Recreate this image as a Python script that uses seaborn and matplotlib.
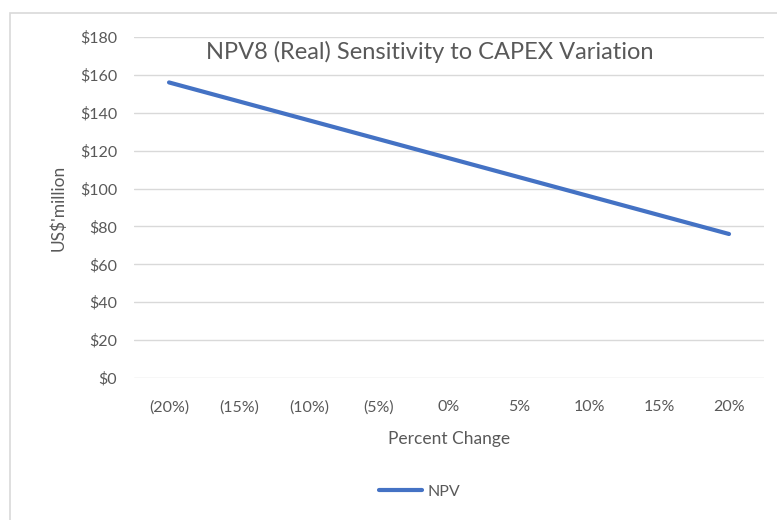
import pandas as pd
import matplotlib.pyplot as plt
import seaborn as sns
from matplotlib.patches import Rectangle
from matplotlib.ticker import FuncFormatter

sns.set_theme(style="white")
plt.rcParams["font.family"] = ["Lato", "DejaVu Sans"]

# NPV8 (real) at each CAPEX change, US$ million
changes = ["(20%)", "(15%)", "(10%)", "(5%)", "0%", "5%", "10%", "15%", "20%"]
npv = [156, 146, 136, 126, 116, 106, 96, 86, 76]

TEXT = "#595959"
GRID = "#D9D9D9"
BLUE = "#4472C4"

df = pd.DataFrame({"Percent Change": changes, "NPV": npv})

fig = plt.figure(figsize=(7.77, 5.2), dpi=100)
ax = fig.add_axes([0.1725, 0.2731, 0.8108, 0.6558])

# light chart border like the Excel chart area
fig.patches.append(Rectangle((10 / 777, -0.1), 1.2, 1 - 13 / 520 + 0.1,
                             transform=fig.transFigure, fill=False,
                             edgecolor=GRID, linewidth=1.2, zorder=0))

sns.lineplot(data=df, x="Percent Change", y="NPV", ax=ax, color=BLUE,
             linewidth=3, label="NPV", sort=False)
ax.lines[0].set_solid_capstyle("round")

ax.set_xlim(-0.5, len(changes) - 0.5)
ax.set_ylim(0, 180)
ax.set_yticks(range(0, 181, 20))
ax.yaxis.set_major_formatter(FuncFormatter(lambda v, p: f"${v:.0f}"))
ax.grid(axis="y", color=GRID, linewidth=1)
ax.set_axisbelow(True)
for s in ax.spines.values():
    s.set_visible(False)
ax.tick_params(axis="both", length=0, labelsize=11.5, labelcolor=TEXT)
ax.tick_params(axis="x", pad=16)
ax.tick_params(axis="y", pad=12)

ax.set_xlabel("Percent Change", fontsize=12.5, color=TEXT, labelpad=12)
ax.set_ylabel("US$'million", fontsize=12.5, color=TEXT, labelpad=10)
ax.text(0.47, 0.955, "NPV8 (Real) Sensitivity to CAPEX Variation",
        transform=ax.transAxes, ha="center", va="center", fontsize=17,
        color=TEXT)

ax.get_legend().remove()
fig.legend(handles=ax.lines[:1], labels=["NPV"], loc="center",
           bbox_to_anchor=(0.54, 0.054), frameon=False, fontsize=11.5,
           labelcolor=TEXT, handlelength=2.7, handletextpad=0.3)

fig.savefig("out.png", dpi=100)
